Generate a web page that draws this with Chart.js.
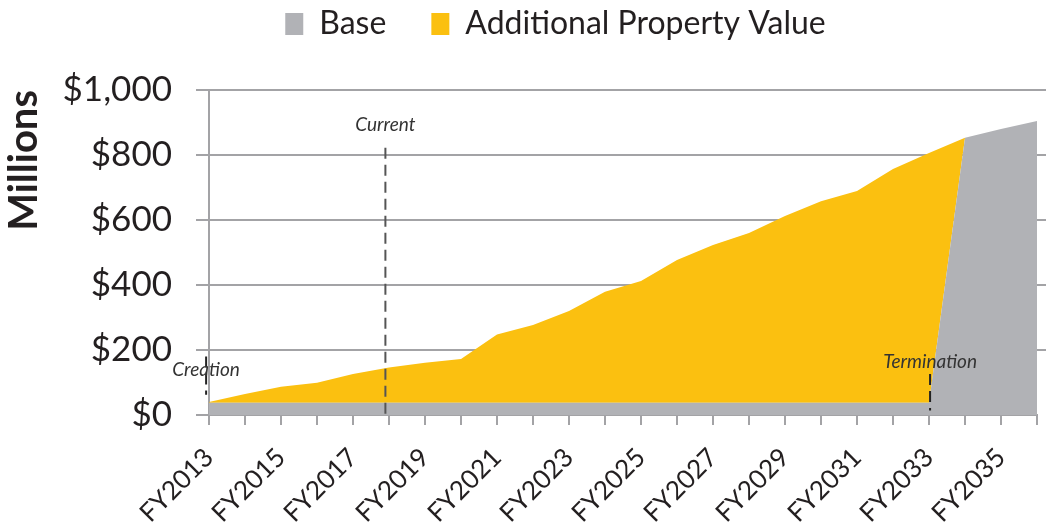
<!DOCTYPE html>
<html>
<head>
<meta charset="utf-8">
<script src="https://cdn.jsdelivr.net/npm/chart.js@4/dist/chart.umd.min.js"></script>
<style>
  html, body { margin: 0; padding: 0; background: #fff; }
  #wrap { width: 1046px; height: 527px; position: relative; }
</style>
</head>
<body>
<div id="wrap"><canvas id="c"></canvas></div>
<script>
// fiscal years on the x axis
const years = ['FY2013','FY2014','FY2015','FY2016','FY2017','FY2018','FY2019','FY2020','FY2021','FY2022','FY2023','FY2024',
  'FY2025','FY2026','FY2027','FY2028','FY2029','FY2030','FY2031','FY2032','FY2033','FY2034','FY2035','FY2036']

// $ millions, stacked
const baseValue = [38,38,38,38,38,38,38,38,38,38,38,38,38,38,38,38,38,38,38,38,38,853,880,905]
const additionalValue = [2,27,49,61,88,108,123,134,210,239,282,341,374,439,485,522,574,620,651,719,768,0,0,0]

const yTicks = [0, 200, 400, 600, 800, 1000]

// dashed event markers (x in category index, y range in $M)
const markers = [
  { text: 'Creation', at: -0.08, from: 62, to: 180, labelY: 140, color: '#222' },
  { text: 'Current', at: 4.9, from: 0, to: 822, labelY: 893, color: '#555' },
  { text: 'Termination', at: 20.03, from: 14, to: 126, labelY: 165, color: '#222' }
]

const GRID = '#a3a3a6'
const INK = '#231f20'
const FONT = 'Lato, "Open Sans", sans-serif'

const markerPlugin = {
  id: 'markers',
  afterLayout(chart) {
    // nudge the legend up and a little right of centre
    const lg = chart.legend
    lg.top -= 40; lg.bottom -= 40
    lg.left += 37; lg.right += 37
  },
  beforeDatasetsDraw(chart) {
    // horizontal gridlines run on to the right edge
    const { ctx, chartArea, scales: { y } } = chart
    ctx.save()
    ctx.strokeStyle = GRID
    ctx.lineWidth = 2
    yTicks.slice(1).forEach(v => {
      const py = y.getPixelForValue(v)
      ctx.beginPath()
      ctx.moveTo(chartArea.right, py)
      ctx.lineTo(chart.width, py)
      ctx.stroke()
    })
    ctx.restore()
  },
  afterDatasetsDraw(chart) {
    const { ctx, scales: { x, y } } = chart
    ctx.save()
    markers.forEach(m => {
      const px = x.getPixelForValue(m.at)
      ctx.strokeStyle = m.color
      ctx.lineWidth = 2
      ctx.setLineDash([11, 6])
      ctx.beginPath()
      ctx.moveTo(px, y.getPixelForValue(m.to))
      ctx.lineTo(px, y.getPixelForValue(m.from))
      ctx.stroke()
      ctx.setLineDash([])
      ctx.fillStyle = '#333'
      ctx.font = 'italic 19px ' + FONT
      ctx.textAlign = 'center'
      ctx.textBaseline = 'middle'
      ctx.fillText(m.text, px, y.getPixelForValue(m.labelY))
    })
    ctx.restore()
  }
}

new Chart(document.getElementById('c'), {
  type: 'line',
  data: {
    labels: years,
    datasets: [
      { label: 'Base', data: baseValue, backgroundColor: '#b1b2b6', borderWidth: 0, pointRadius: 0, fill: 'origin' },
      { label: 'Additional Property Value', data: additionalValue, backgroundColor: '#fbc010', borderWidth: 0, pointRadius: 0, fill: '-1' }
    ]
  },
  options: {
    responsive: true,
    maintainAspectRatio: false,
    animation: false,
    layout: { padding: { top: 0, right: 9, left: 0, bottom: 0 } },
    plugins: {
      tooltip: { enabled: false },
      legend: {
        position: 'top',
        labels: {
          color: INK,
          font: { family: FONT, size: 32 },
          boxWidth: 18,
          boxHeight: 22,
          padding: 45,
          useBorderRadius: false
        }
      }
    },
    scales: {
      x: {
        afterFit(s) { s.height = 112; s.paddingLeft = 0; s.paddingRight = 0 },
        grid: { drawOnChartArea: false, drawTicks: true, tickLength: 10, color: GRID, lineWidth: 2 },
        border: { color: GRID, width: 2 },
        ticks: {
          autoSkip: false, maxRotation: 45, minRotation: 45, padding: 17,
          color: INK, font: { family: FONT, size: 26 },
          callback: (v, i) => i % 2 === 0 ? years[i] : ''
        }
      },
      y: {
        stacked: true,
        min: 0, max: 1000,
        afterFit(s) { s.width = 209; s.paddingTop = 90 },
        afterBuildTicks(s) { s.ticks = yTicks.map(v => ({ value: v })) },
        grid: { color: GRID, lineWidth: 2, tickLength: 13 },
        border: { color: GRID, width: 2 },
        ticks: {
          padding: 24, color: INK, font: { family: FONT, size: 35 },
          callback: v => '$' + v.toLocaleString('en-US')
        },
        title: { display: true, text: 'Millions', align: 'end', color: INK, font: { family: FONT, size: 40, weight: 'bold' }, padding: 0 }
      }
    }
  },
  plugins: [markerPlugin]
})
</script>
</body>
</html>
